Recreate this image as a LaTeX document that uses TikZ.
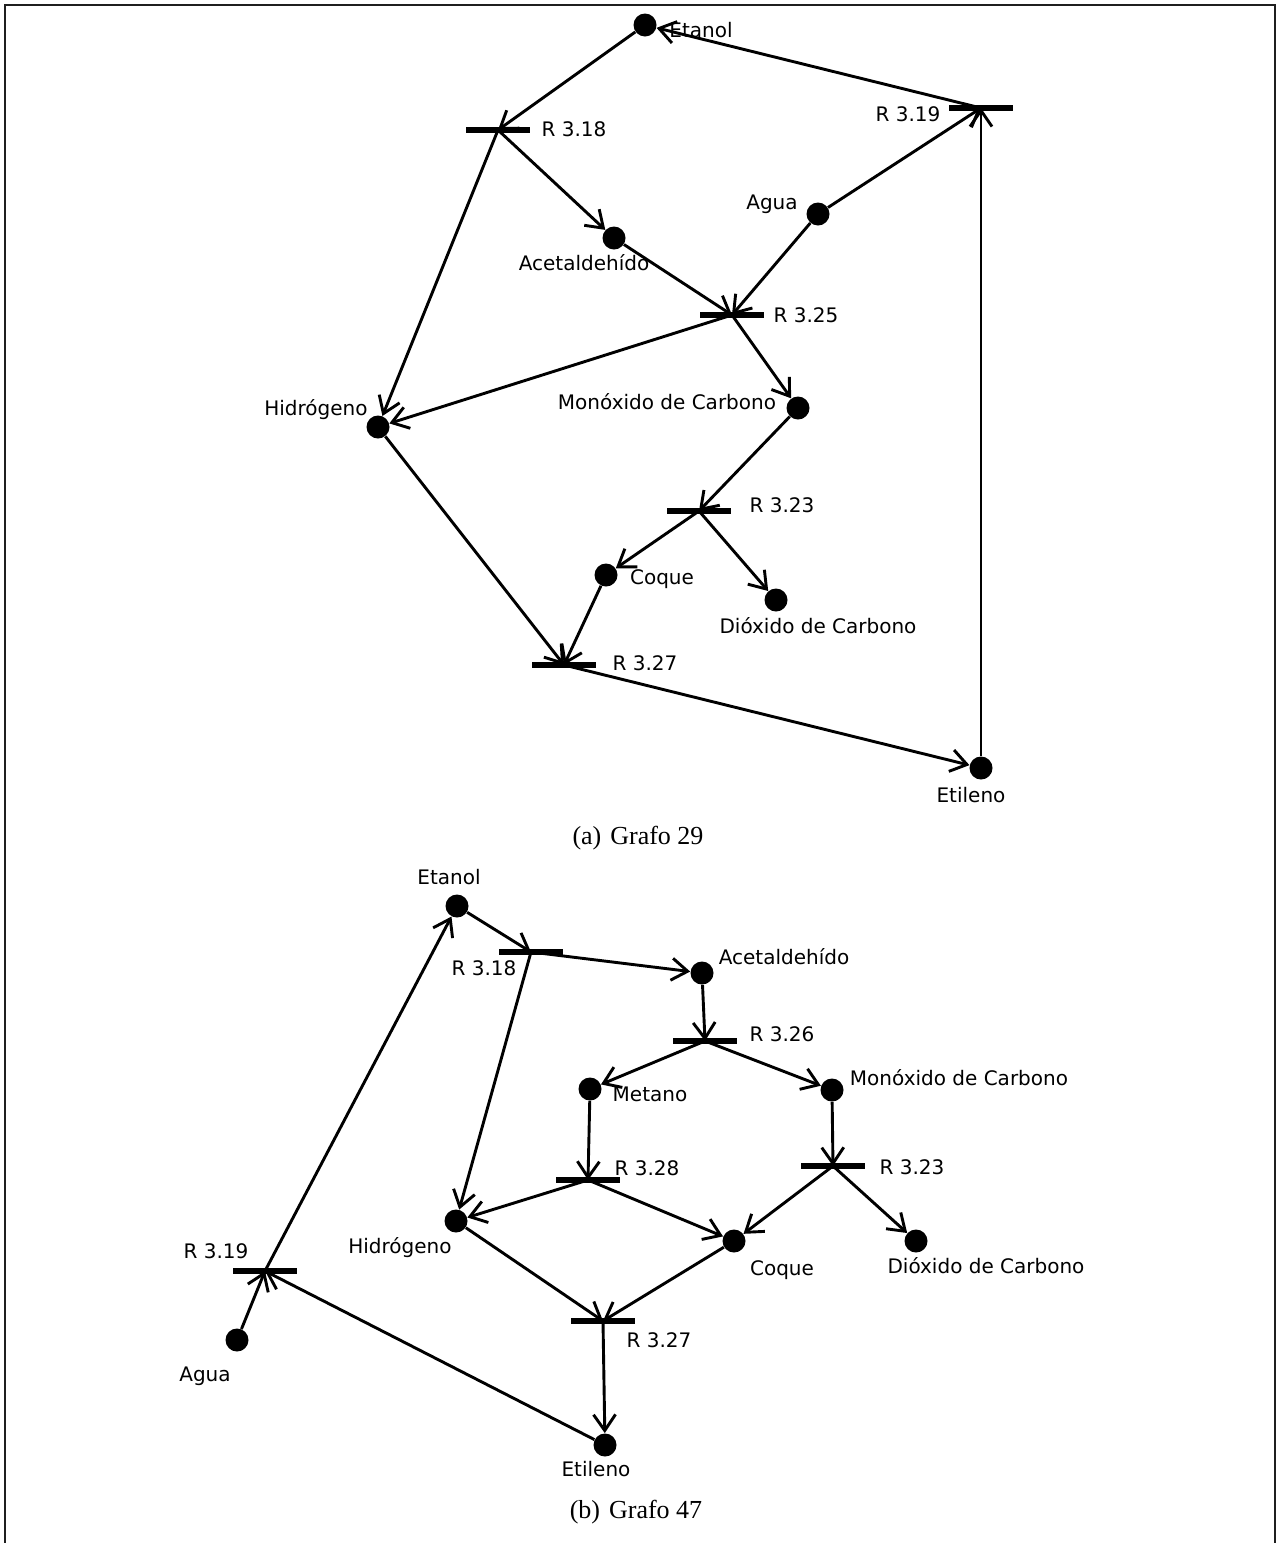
\documentclass[tikz,border=0pt]{standalone}
\usepackage{fontspec}
\setmainfont{Liberation Serif}
\newfontfamily\labelfont{DejaVu Sans}
\usetikzlibrary{arrows.meta}

\begin{document}
\begin{tikzpicture}[x=0.5pt,y=-0.5pt,
  species/.style={circle,fill=black,inner sep=0pt,minimum size=11.5pt},
  reaction/.style={rectangle,fill=black,inner sep=0pt,minimum width=32pt,minimum height=3pt},
  lbl/.style={font=\labelfont\fontsize{10}{12}\selectfont,anchor=base,inner sep=0pt},
  captxt/.style={font=\fontsize{13}{15}\selectfont,anchor=base,inner sep=0pt},
  flow/.style={line width=1.45pt,-{Straight Barb[length=8pt,width=11pt,line width=1.45pt]}},
  frame/.style={line width=1.3pt,color=black!88},
]
\useasboundingbox (0,0) rectangle (1277,1543);
\draw[frame] (5,1543) -- (5,5) -- (1275,5) -- (1275,1543);

% ---------------- Grafo 29 ----------------
\node[species] (aEt) at (645,25) {};
\node[species] (aAg) at (818,214) {};
\node[species] (aAc) at (614,238) {};
\node[species] (aHi) at (378,427) {};
\node[species] (aMo) at (798,408) {};
\node[species] (aCo) at (606,575) {};
\node[species] (aDi) at (776,600) {};
\node[species] (aEl) at (981,768) {};

\node[reaction] (aR18) at (498,130) {};
\node[reaction] (aR19) at (981,108) {};
\node[reaction] (aR25) at (732,315) {};
\node[reaction] (aR23) at (699,511) {};
\node[reaction] (aR27) at (564,665) {};

\node[lbl] (laEt) at (701,37) {Etanol};
\node[lbl] (laR18) at (574,136) {R 3.18};
\node[lbl] (laR19) at (908,121) {R 3.19};
\node[lbl] (laAg) at (772,209) {Agua};
\node[lbl] (laAc) at (584,270) {Acetaldehído};
\node[lbl] (laR25) at (806,322) {R 3.25};
\node[lbl] (laHi) at (316,415) {Hidrógeno};
\node[lbl] (laMo) at (667,409) {Monóxido de Carbono};
\node[lbl] (laR23) at (782,512) {R 3.23};
\node[lbl] (laCo) at (662,584) {Coque};
\node[lbl] (laDi) at (818,633) {Dióxido de Carbono};
\node[lbl] (laR27) at (645,670) {R 3.27};
\node[lbl] (laEl) at (971,802) {Etileno};
\node[captxt] (capa) at (638,844) {(a)\hspace{4.5pt}Grafo 29};

\draw[flow] (aEt) -- (aR18.center);
\draw[flow] (aR19.center) -- (aEt);
\draw[flow] (aR18.center) -- (aAc);
\draw[flow] (aR18.center) -- (aHi);
\draw[flow] (aAg) -- (aR19.center);
\draw[flow] (aAg) -- (aR25.center);
\draw[flow] (aAc) -- (aR25.center);
\draw[flow] (aR25.center) -- (aHi);
\draw[flow] (aR25.center) -- (aMo);
\draw[flow] (aMo) -- (aR23.center);
\draw[flow] (aR23.center) -- (aCo);
\draw[flow] (aR23.center) -- (aDi);
\draw[flow] (aHi) -- (aR27.center);
\draw[flow] (aCo) -- (aR27.center);
\draw[flow] (aR27.center) -- (aEl);
\draw[flow] (aEl) -- (aR19.center);

% ---------------- Grafo 47 ----------------
\node[species] (bEt) at (457,906) {};
\node[species] (bAc) at (702,973) {};
\node[species] (bMe) at (590,1089) {};
\node[species] (bMo) at (832,1090) {};
\node[species] (bHi) at (456,1221) {};
\node[species] (bCo) at (734,1241) {};
\node[species] (bDi) at (916,1241) {};
\node[species] (bAg) at (237,1340) {};
\node[species] (bEl) at (605,1445) {};

\node[reaction] (bR18) at (531,952) {};
\node[reaction] (bR26) at (705,1041) {};
\node[reaction] (bR28) at (588,1180) {};
\node[reaction] (bR23) at (833,1166) {};
\node[reaction] (bR19) at (265,1271) {};
\node[reaction] (bR27) at (603,1321) {};

\node[lbl] (lbEt) at (449,884) {Etanol};
\node[lbl] (lbR18) at (484,975) {R 3.18};
\node[lbl] (lbAc) at (784,964) {Acetaldehído};
\node[lbl] (lbR26) at (782,1041) {R 3.26};
\node[lbl] (lbMe) at (650,1101) {Metano};
\node[lbl] (lbMo) at (959,1085) {Monóxido de Carbono};
\node[lbl] (lbR28) at (647,1175) {R 3.28};
\node[lbl] (lbR23) at (912,1174) {R 3.23};
\node[lbl] (lbHi) at (400,1253) {Hidrógeno};
\node[lbl] (lbCo) at (782,1275) {Coque};
\node[lbl] (lbDi) at (986,1273) {Dióxido de Carbono};
\node[lbl] (lbR19) at (216,1258) {R 3.19};
\node[lbl] (lbR27) at (659,1347) {R 3.27};
\node[lbl] (lbAg) at (205,1381) {Agua};
\node[lbl] (lbEl) at (596,1476) {Etileno};
\node[captxt] (capb) at (636,1518) {(b)\hspace{4.5pt}Grafo 47};

\draw[flow] (bEt) -- (bR18.center);
\draw[flow] (bR18.center) -- (bAc);
\draw[flow] (bR18.center) -- (bHi);
\draw[flow] (bAc) -- (bR26.center);
\draw[flow] (bR26.center) -- (bMe);
\draw[flow] (bR26.center) -- (bMo);
\draw[flow] (bMe) -- (bR28.center);
\draw[flow] (bR28.center) -- (bHi);
\draw[flow] (bR28.center) -- (bCo);
\draw[flow] (bMo) -- (bR23.center);
\draw[flow] (bR23.center) -- (bCo);
\draw[flow] (bR23.center) -- (bDi);
\draw[flow] (bHi) -- (bR27.center);
\draw[flow] (bCo) -- (bR27.center);
\draw[flow] (bR27.center) -- (bEl);
\draw[flow] (bEl) -- (bR19.center);
\draw[flow] (bAg) -- (bR19.center);
\draw[flow] (bR19.center) -- (bEt);
\end{tikzpicture}
\end{document}
